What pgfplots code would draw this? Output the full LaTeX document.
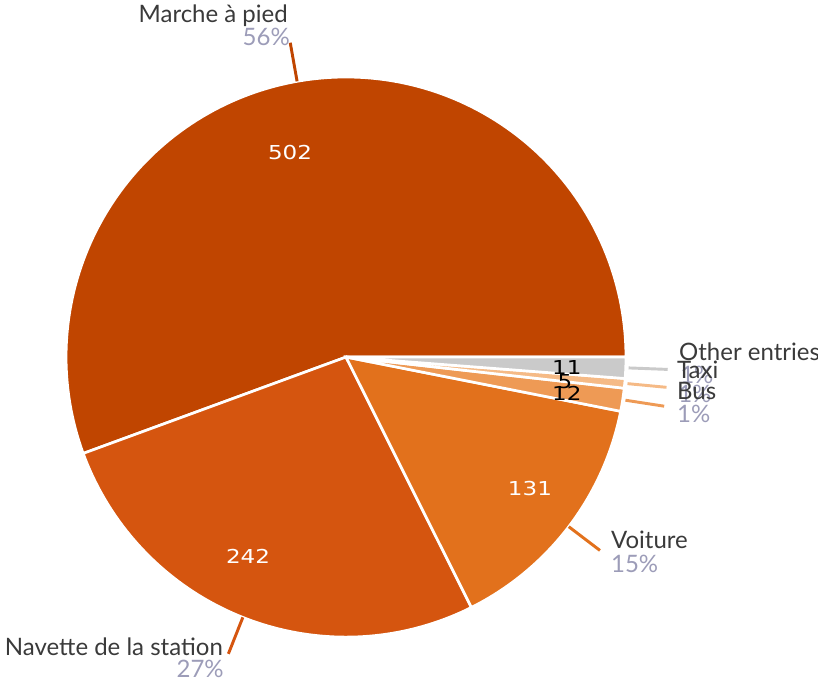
\documentclass[border=0pt]{standalone}
\usepackage{pgfplots}
\pgfplotsset{compat=1.18}
\usepackage{fontspec}
\setmainfont{Lato}
\newfontfamily\numfont{DejaVu Sans}
\definecolor{cA}{HTML}{C04500}
\definecolor{cB}{HTML}{D5550F}
\definecolor{cC}{HTML}{E2711C}
\definecolor{cD}{HTML}{EE9A55}
\definecolor{cE}{HTML}{F5BA86}
\definecolor{cF}{HTML}{CACACA}
\definecolor{lab}{HTML}{3A3A3A}
\definecolor{pct}{HTML}{9C9CB8}
% values
\def\vA{502}% Marche a pied
\def\vB{242}% Navette de la station
\def\vC{131}% Voiture
\def\vD{12}%  Bus
\def\vE{5}%   Taxi
\def\vF{11}%  Other entries
\pgfmathsetmacro\tot{\vA+\vB+\vC+\vD+\vE+\vF}
\pgfmathsetmacro\aA{\vA/\tot*360}
\pgfmathsetmacro\aB{\aA+\vB/\tot*360}
\pgfmathsetmacro\aC{\aB+\vC/\tot*360}
\pgfmathsetmacro\aD{\aC+\vD/\tot*360}
\pgfmathsetmacro\aE{\aD+\vE/\tot*360}
\pgfmathsetmacro\mA{\aA/2}
\pgfmathsetmacro\mB{(\aA+\aB)/2}
\pgfmathsetmacro\mC{(\aB+\aC)/2}
\pgfmathsetmacro\mD{(\aC+\aD)/2}
\pgfmathsetmacro\mE{(\aD+\aE)/2}
\pgfmathsetmacro\mF{(\aE+360)/2}
\begin{document}
\begin{tikzpicture}
\begin{axis}[width=613.5pt,height=508.5pt,scale only axis,
  xmin=-1.236,xmax=1.686,ymin=-1.146,ymax=1.275,hide axis,clip=false]
\addplot[fill=cA,draw=white,line width=2pt,domain=0:\aA,samples=150] ({cos(x)},{sin(x)}) -- (axis cs:0,0) -- cycle;
\addplot[fill=cB,draw=white,line width=2pt,domain=\aA:\aB,samples=80] ({cos(x)},{sin(x)}) -- (axis cs:0,0) -- cycle;
\addplot[fill=cC,draw=white,line width=2pt,domain=\aB:\aC,samples=50] ({cos(x)},{sin(x)}) -- (axis cs:0,0) -- cycle;
\addplot[fill=cD,draw=white,line width=2pt,domain=\aC:\aD,samples=10] ({cos(x)},{sin(x)}) -- (axis cs:0,0) -- cycle;
\addplot[fill=cE,draw=white,line width=2pt,domain=\aD:\aE,samples=10] ({cos(x)},{sin(x)}) -- (axis cs:0,0) -- cycle;
\addplot[fill=cF,draw=white,line width=2pt,domain=\aE:360,samples=10] ({cos(x)},{sin(x)}) -- (axis cs:0,0) -- cycle;
% leader lines
\draw[cA,line width=2.2pt] (axis cs:{1.0*cos(\mA)},{1.0*sin(\mA)}) -- (axis cs:{1.14*cos(\mA)},{1.14*sin(\mA)});
\draw[cB,line width=2.2pt] (axis cs:{1.0*cos(\mB)},{1.0*sin(\mB)}) -- (axis cs:{1.14*cos(\mB)},{1.14*sin(\mB)});
\draw[cC,line width=2.2pt] (axis cs:{1.0*cos(\mC)},{1.0*sin(\mC)}) -- (axis cs:{1.14*cos(\mC)},{1.14*sin(\mC)});
\draw[cD,line width=2.2pt] (axis cs:{1.01*cos(\mD)},{1.01*sin(\mD)}) -- (axis cs:{1.15*cos(\mD)},{1.15*sin(\mD)});
\draw[cE,line width=2.2pt] (axis cs:{1.01*cos(\mE)},{1.01*sin(\mE)}) -- (axis cs:{1.15*cos(\mE)},{1.15*sin(\mE)});
\draw[cF,line width=2.2pt] (axis cs:{1.01*cos(\mF)},{1.01*sin(\mF)}) -- (axis cs:{1.15*cos(\mF)},{1.15*sin(\mF)});
% inner values
\tikzset{iv/.style={inner sep=0pt,xscale=1.2,font=\numfont\fontsize{14.4}{15}\selectfont}}
\node[iv,white] at (axis cs:-0.2,0.732) {502};
\node[iv,white] at (axis cs:-0.35,-0.711) {242};
\node[iv,white] at (axis cs:0.657,-0.471) {131};
\node[iv,black] at (axis cs:0.789,-0.039) {11};
\node[iv,black] at (axis cs:0.782,-0.086) {5};
\node[iv,black] at (axis cs:0.789,-0.129) {12};
% outer labels
\tikzset{nm/.style={lab,inner sep=0pt,font=\fontsize{18}{19}\selectfont},
         pc/.style={pct,inner sep=0pt,font=\fontsize{18}{19}\selectfont}}
\node[nm,anchor=base east] at (axis cs:-0.207,1.196) {Marche à pied};
\node[pc,anchor=base east] at (axis cs:-0.2,1.111) {56\%};
\node[nm,anchor=base east] at (axis cs:-0.439,-1.064) {Navette de la station};
\node[pc,anchor=base east] at (axis cs:-0.436,-1.146) {27\%};
\node[nm,anchor=base west] at (axis cs:0.946,-0.682) {Voiture};
\node[pc,anchor=base west] at (axis cs:0.946,-0.771) {15\%};
\node[pc,anchor=base west] at (axis cs:1.193,-0.093) {1\%};
\node[pc,anchor=base west] at (axis cs:1.186,-0.164) {1\%};
\node[pc,anchor=base west] at (axis cs:1.182,-0.232) {1\%};
\node[nm,anchor=base west] at (axis cs:1.189,-0.014) {Other entries};
\node[nm,anchor=base west] at (axis cs:1.182,-0.075) {Taxi};
\node[nm,anchor=base west] at (axis cs:1.182,-0.15) {Bus};
\end{axis}
\pgfresetboundingbox
\useasboundingbox (current axis.south west) rectangle (current axis.north east);
\end{tikzpicture}
\end{document}
